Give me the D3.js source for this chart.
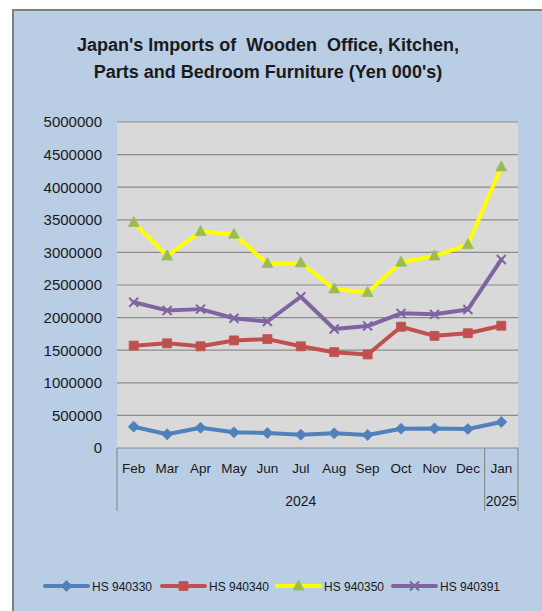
<!DOCTYPE html>
<html>
<head>
<meta charset="utf-8">
<script src="https://cdn.jsdelivr.net/npm/d3@7"></script>
<style>
  html, body { margin: 0; padding: 0; background: #ffffff; }
  svg { display: block; }
  text { font-family: "Liberation Sans", Arial, sans-serif; fill: #1a1a1a; white-space: pre; }
</style>
</head>
<body>
<svg id="chart" width="542" height="611"></svg>
<script>
// Monthly import values, Yen 000's
const months = ["Feb", "Mar", "Apr", "May", "Jun", "Jul", "Aug", "Sep", "Oct", "Nov", "Dec", "Jan"];
const years = [
  { label: "2024", from: "Feb", to: "Dec" },
  { label: "2025", from: "Jan", to: "Jan" }
];
const hs940330 = [327000, 210000, 311000, 240000, 230000, 205000, 225000, 200000, 296000, 300000, 291000, 399000];
const hs940340 = [1570000, 1605000, 1560000, 1650000, 1670000, 1560000, 1470000, 1435000, 1860000, 1720000, 1760000, 1875000];
const hs940350 = [3460000, 2945000, 3320000, 3280000, 2830000, 2840000, 2440000, 2385000, 2850000, 2945000, 3120000, 4310000];
const hs940391 = [2235000, 2110000, 2130000, 1990000, 1940000, 2320000, 1825000, 1870000, 2065000, 2050000, 2125000, 2890000];
const yTicks = [0, 500000, 1000000, 1500000, 2000000, 2500000, 3000000, 3500000, 4000000, 4500000, 5000000];

const series = [
  { name: "HS 940330", values: hs940330, line: "#4f81bd", marker: "#4f81bd", shape: "diamond" },
  { name: "HS 940340", values: hs940340, line: "#c0504d", marker: "#c0504d", shape: "square" },
  { name: "HS 940350", values: hs940350, line: "#ffff00", marker: "#9bbb59", shape: "triangle" },
  { name: "HS 940391", values: hs940391, line: "#8064a2", marker: "#8064a2", shape: "cross" }
];

const svg = d3.select("#chart");

// Outer chart frame
svg.append("rect").attr("x", 13).attr("y", 10).attr("width", 542).attr("height", 611)
  .attr("fill", "#b9cde5");
svg.append("path").attr("d", "M13,611 V10 H542")
  .attr("fill", "none").attr("stroke", "#7f7f7f").attr("stroke-width", 2);

// Title
const title = svg.append("text").attr("text-anchor", "middle")
  .attr("font-weight", "bold").attr("font-size", 18);
title.append("tspan").attr("x", 268).attr("y", 51).text("Japan's Imports of  Wooden  Office, Kitchen,");
title.append("tspan").attr("x", 268).attr("y", 78).text("Parts and Bedroom Furniture (Yen 000's)");

// Plot area
const plotLeft = 117, plotRight = 518, plotTop = 122, plotBottom = 448;
const x = d3.scaleBand().domain(months).range([plotLeft, plotRight]);
const y = d3.scaleLinear().domain([0, 5000000]).range([plotBottom, plotTop]);

svg.append("rect").attr("x", plotLeft).attr("y", plotTop)
  .attr("width", plotRight - plotLeft).attr("height", plotBottom - plotTop).attr("fill", "#d9d9d9");

// Horizontal gridlines
svg.append("g").selectAll("line").data(yTicks.filter(d => d > 0)).join("line")
  .attr("x1", plotLeft).attr("x2", plotRight)
  .attr("y1", d => y(d)).attr("y2", d => y(d))
  .attr("stroke", "#8c8c8c").attr("stroke-width", 1.2);

// Y axis labels
const yAxis = d3.axisLeft(y).tickValues(yTicks).tickFormat(d3.format("d")).tickSize(0).tickPadding(15);
const gy = svg.append("g").attr("transform", `translate(${plotLeft},0)`).call(yAxis);
gy.select(".domain").remove();
gy.selectAll("text").attr("font-size", 15).attr("font-family", "Liberation Sans, Arial, sans-serif").attr("fill", "#1a1a1a");

// X axis: baseline, month labels, and year grouping
svg.append("line").attr("x1", plotLeft).attr("x2", plotRight).attr("y1", plotBottom).attr("y2", plotBottom)
  .attr("stroke", "#8c8c8c").attr("stroke-width", 1.2);
const xAxis = d3.axisBottom(x).tickSize(0).tickPadding(15);
const gx = svg.append("g").attr("transform", `translate(0,${plotBottom})`).call(xAxis);
gx.select(".domain").remove();
gx.selectAll("text").attr("font-size", 13.5).attr("font-family", "Liberation Sans, Arial, sans-serif").attr("fill", "#1a1a1a");

const groupLines = [plotLeft, x(years[1].from), plotRight];
svg.append("g").selectAll("line").data(groupLines).join("line")
  .attr("x1", d => d).attr("x2", d => d).attr("y1", plotBottom).attr("y2", 511)
  .attr("stroke", "#8c8c8c").attr("stroke-width", 1.2);
svg.append("g").selectAll("text").data(years).join("text")
  .attr("x", d => (x(d.from) + x(d.to) + x.bandwidth()) / 2)
  .attr("y", 506)
  .attr("text-anchor", "middle").attr("font-size", 14)
  .text(d => d.label);

// Marker shapes
function markerPath(shape) {
  switch (shape) {
    case "diamond": return "M0,-5.5 L5.5,0 L0,5.5 L-5.5,0 Z";
    case "square": return "M-4.5,-4.5 H4.5 V4.5 H-4.5 Z";
    case "triangle": return "M0,-6 L5.5,4 L-5.5,4 Z";
    case "cross": return "M-4.5,-4.5 L4.5,4.5 M4.5,-4.5 L-4.5,4.5";
  }
}
function drawMarker(g, s, cx, cy) {
  const p = g.append("path").attr("d", markerPath(s.shape))
    .attr("transform", `translate(${cx},${cy})`);
  if (s.shape === "cross") {
    p.attr("fill", "none").attr("stroke", s.marker).attr("stroke-width", 2);
  } else {
    p.attr("fill", s.marker).attr("stroke", s.marker).attr("stroke-width", 0.8);
  }
}

// Series lines and markers
const line = d3.line().x((d, i) => x(months[i]) + x.bandwidth() / 2).y(d => y(d));
series.forEach(s => {
  const g = svg.append("g");
  g.append("path").datum(s.values).attr("d", line)
    .attr("fill", "none").attr("stroke", s.line).attr("stroke-width", 4)
    .attr("stroke-linejoin", "round").attr("stroke-linecap", "round");
  s.values.forEach((v, i) => drawMarker(g, s, x(months[i]) + x.bandwidth() / 2, y(v)));
});

// Legend
const legendX = [45, 162, 277, 393];
const legendY = 586;
series.forEach((s, i) => {
  const g = svg.append("g");
  g.append("line").attr("x1", legendX[i]).attr("x2", legendX[i] + 43)
    .attr("y1", legendY).attr("y2", legendY)
    .attr("stroke", s.line).attr("stroke-width", 4).attr("stroke-linecap", "round");
  drawMarker(g, s, legendX[i] + 21.5, legendY);
  g.append("text").attr("x", legendX[i] + 47).attr("y", legendY + 4.5)
    .attr("font-size", 12).text(s.name);
});
</script>
</body>
</html>
